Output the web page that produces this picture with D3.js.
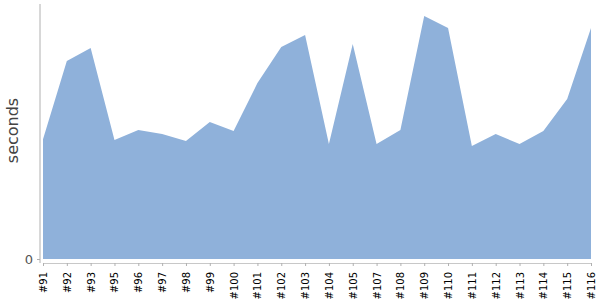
<!DOCTYPE html>
<html lang="en">
<head>
	<meta charset="UTF-8"/>
	<title>Build times</title>
	<script src="https://d3js.org/d3.v7.min.js"></script>
	<style>
		body { margin: 0; background: #fff; }
		text { font-family: "DejaVu Sans", Verdana, sans-serif; }
	</style>
</head>
<body>
<script>
	var w = 600;	// Width of the SVG
	var h = 300;	// Height of the SVG

	// builds along the x axis
	var builds = ["#91","#92","#93","#95","#96","#97","#98","#99","#100","#101","#102","#103",
				  "#104","#105","#107","#108","#109","#110","#111","#112","#113","#114","#115","#116"];
	// duration of each build (seconds)
	var seconds = [47, 77.6, 82.7, 46.7, 50.6, 49, 46.3, 53.7, 50.2, 69, 83.1, 87.8,
				   45.1, 84.3, 45.1, 50.6, 95.3, 90.6, 44.3, 49, 45.1, 50.2, 62.7, 90.6];
	var yTicks = [0];

	var dataset = builds.map(function(b, i) {
		return { build: b, value: seconds[i] };
	});

	var xScale = d3.scalePoint()
				.domain(builds)
				.range([43, 591]);

	var yScale = d3.scaleLinear()
				.domain([0, 100])
				.range([259, 4]);

	var svg = d3.select("body")
				.append("svg")
				.attr("width", w)
				.attr("height", h);

	// the area
	var area = d3.area()
				.x(function(d) { return xScale(d.build); })
				.y0(yScale(0))
				.y1(function(d) { return yScale(d.value); });

	svg.append("path")
		.datum(dataset)
		.attr("d", area)
		.attr("fill", "#8fb1da");

	// y axis
	var yAxis = d3.axisLeft(yScale)
				.tickValues(yTicks)
				.tickSize(3)
				.tickPadding(4);
	var gy = svg.append("g")
				.attr("transform", "translate(40,0)")
				.call(yAxis);
	gy.select(".domain").remove();
	gy.append("line")
		.attr("x1", 0).attr("x2", 0)
		.attr("y1", 4).attr("y2", 263)
		.attr("stroke", "#b0b0b0");
	gy.selectAll(".tick line").attr("stroke", "#b0b0b0");
	gy.selectAll(".tick text")
		.attr("fill", "#555")
		.style("font-size", "13px");

	// x axis
	var xAxis = d3.axisBottom(xScale)
				.tickSize(3)
				.tickSizeOuter(0);
	var gx = svg.append("g")
				.attr("transform", "translate(0,263)")
				.call(xAxis);
	gx.select(".domain").attr("stroke", "#c8c8c8");
	gx.selectAll(".tick line").attr("stroke", "#b0b0b0");
	gx.selectAll(".tick text")
		.attr("fill", "#000")
		.style("font-size", "10px")
		.attr("text-anchor", "end")
		.attr("dy", "0.35em")
		.attr("transform", "translate(0,9) rotate(-90)")
		.attr("x", 0)
		.attr("y", 0);

	// y axis label
	svg.append("text")
		.attr("transform", "rotate(-90)")
		.attr("x", -130.5)
		.attr("y", 18)
		.attr("text-anchor", "middle")
		.attr("fill", "#444")
		.style("font-size", "16px")
		.text("seconds");
</script>
</body>
</html>
